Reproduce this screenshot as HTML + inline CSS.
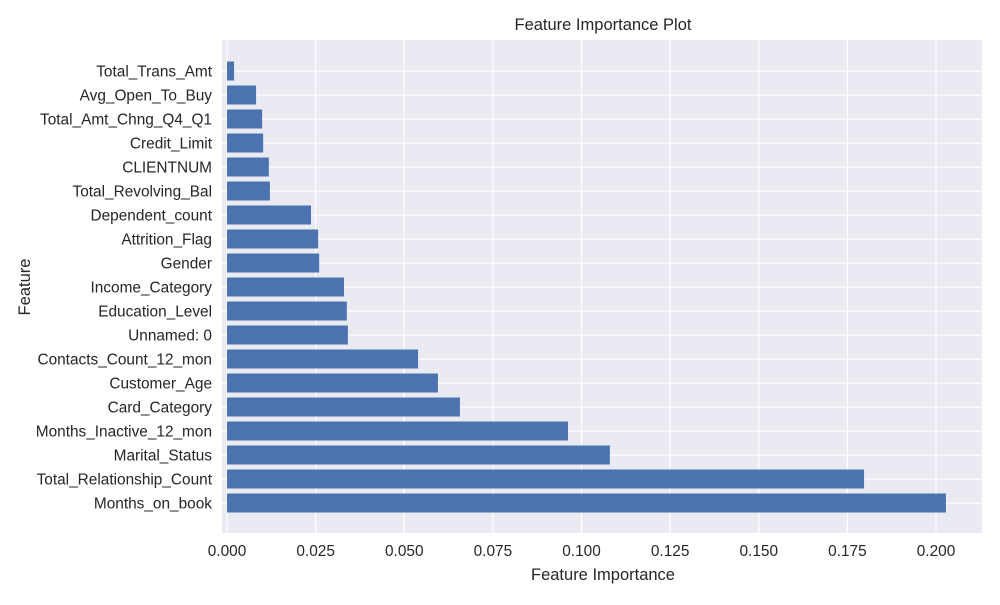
<!DOCTYPE html>
<html><head><meta charset="utf-8"><style>
body{margin:0;background:#fff;font-family:"Liberation Sans","DejaVu Sans",sans-serif;}
svg text{font-family:"Liberation Sans","DejaVu Sans",sans-serif;fill:#262626;}
</style></head><body>
<svg id="chart" width="1000" height="600">
<rect x="0" y="0" width="1000" height="600" fill="#fff"/>
<rect id="plotbg" x="222" y="40" width="760" height="493" fill="#eaeaf2"/>
<g id="grid"></g><g id="bars"></g><g id="labels"></g>
<text x="603" y="30" text-anchor="middle" font-size="16.5">Feature Importance Plot</text>
<text x="603" y="580" text-anchor="middle" font-size="16.5">Feature Importance</text>
<text x="30" y="287" text-anchor="middle" font-size="16.5" transform="rotate(-90 30 287)">Feature</text>
</svg>
<script>
const features=["Total_Trans_Amt","Avg_Open_To_Buy","Total_Amt_Chng_Q4_Q1","Credit_Limit","CLIENTNUM","Total_Revolving_Bal","Dependent_count","Attrition_Flag","Gender","Income_Category","Education_Level","Unnamed: 0","Contacts_Count_12_mon","Customer_Age","Card_Category","Months_Inactive_12_mon","Marital_Status","Total_Relationship_Count","Months_on_book"];
const importances=[0.002,0.0082,0.0099,0.0102,0.0118,0.0121,0.0237,0.0257,0.026,0.033,0.0338,0.0341,0.0539,0.0595,0.0657,0.0962,0.108,0.1797,0.2028];
const xTicks=[0,0.025,0.05,0.075,0.1,0.125,0.15,0.175,0.2];
const xTickLabels=["0.000","0.025","0.050","0.075","0.100","0.125","0.150","0.175","0.200"];
const NS="http://www.w3.org/2000/svg";
const x=v=>227+v*3545;
const y=i=>71+i*24;
function mk(tag,attrs,parent){const e=document.createElementNS(NS,tag);for(const k in attrs)e.setAttribute(k,attrs[k]);document.getElementById(parent).appendChild(e);return e;}
xTicks.forEach((t,i)=>{
 const l=mk('line',{x1:x(t),x2:x(t),y1:40,y2:533,stroke:'#fff','stroke-width':1.2},'grid');
 
 
 const tx=mk('text',{x:x(t),y:556,'text-anchor':'middle','font-size':15.4},'labels');
 tx.textContent=xTickLabels[i];
 
 
});
features.forEach((f,i)=>{
 const l=mk('line',{x1:222,x2:982,y1:y(i),y2:y(i),stroke:'#fff','stroke-width':1.2},'grid');
 
 
 const b=mk('rect',{x:x(0),y:y(i)-9.5,width:x(importances[i])-x(0),height:19,fill:'#4c72b0'},'bars');
 
 
 const tx=mk('text',{x:212,y:y(i)+5.5,'text-anchor':'end','font-size':15.4},'labels');
 tx.textContent=f;
 
 
});
</script>
</body></html>
